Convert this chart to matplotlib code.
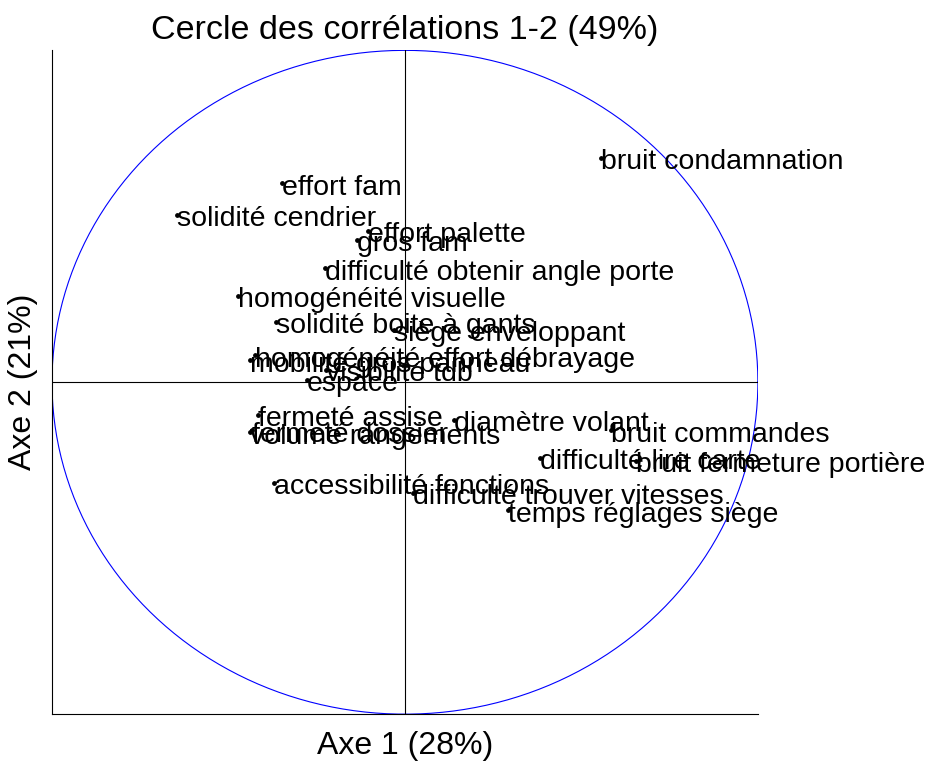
import numpy as np
import matplotlib
matplotlib.use('Agg')
import matplotlib.pyplot as plt

plt.rcParams['font.family'] = ['Liberation Sans', 'DejaVu Sans']

# Variable names and their coordinates on axes 1 and 2
labels = [
    'bruit condamnation', 'effort fam', 'solidité cendrier', 'effort palette',
    'gros fam', 'difficulté obtenir angle porte', 'homogénéité visuelle',
    'solidité boite à gants', 'siège enveloppant', 'homogénéité effort débrayage',
    'mobilité gros panneau', 'visibilité tdb', 'espace', 'fermeté assise',
    'diamètre volant', 'fermeté dossier', 'volume rangements', 'bruit commandes',
    'difficulté lire carte', 'bruit fermeture portière', 'accessibilité fonctions',
    'difficulté trouver vitesses', 'temps réglages siège',
]
axe1 = [0.555, -0.348, -0.646, -0.105, -0.136, -0.227, -0.473, -0.365, -0.031,
        -0.425, -0.439, -0.224, -0.278, -0.416, 0.139, -0.433, -0.439, 0.584,
        0.382, 0.654, -0.371, 0.023, 0.292]
axe2 = [0.675, 0.599, 0.503, 0.455, 0.428, 0.343, 0.259, 0.181, 0.157,
        0.081, 0.066, 0.036, 0.006, -0.099, -0.114, -0.145, -0.151, -0.145,
        -0.229, -0.238, -0.304, -0.334, -0.386]

fig = plt.figure(figsize=(9.45, 7.63), dpi=100)
ax = fig.add_axes([0.055, 0.064, 0.747, 0.870])

# unit circle
t = np.linspace(0, 2 * np.pi, 400)
ax.plot(np.cos(t), np.sin(t), color='blue', lw=0.8)
ax.axhline(0, color='black', lw=0.8)
ax.axvline(0, color='black', lw=0.8)

ax.scatter(axe1, axe2, s=6, color='black', zorder=3)
for x, y, lab in zip(axe1, axe2, labels):
    ax.annotate(lab, (x, y), xytext=(0, -3), textcoords='offset points',
                fontsize=20.5, ha='left', va='center', annotation_clip=False)

ax.set_xlim(-1, 1)
ax.set_ylim(-1, 1)
ax.set_xticks([])
ax.set_yticks([])
ax.spines['top'].set_visible(False)
ax.spines['right'].set_visible(False)
ax.set_title('Cercle des corrélations 1-2 (49%)', fontsize=24.5, pad=8)
ax.set_xlabel('Axe 1 (28%)', fontsize=23, labelpad=12)
ax.set_ylabel('Axe 2 (21%)', fontsize=23, labelpad=10)

fig.savefig('out.png', dpi=100)
